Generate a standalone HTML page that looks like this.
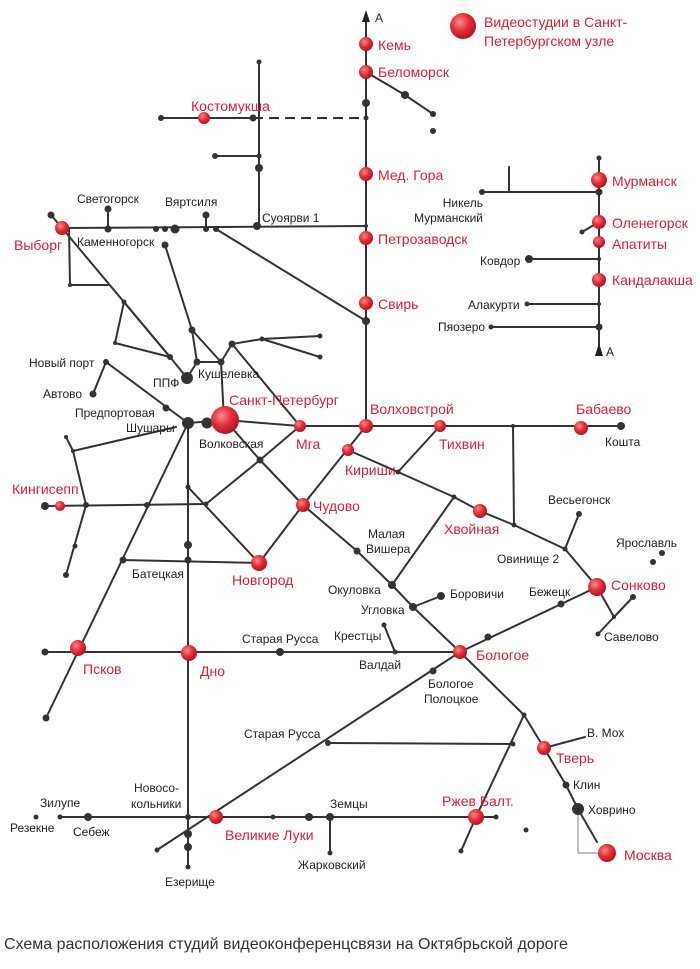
<!DOCTYPE html>
<html><head><meta charset="utf-8"><style>
html,body{margin:0;padding:0;background:#fff;}
svg{display:block}
.b{font-family:"Liberation Sans Narrow","Liberation Sans",sans-serif;font-size:12px;fill:#222}
.r{font-family:"Liberation Sans Narrow","Liberation Sans",sans-serif;font-size:14px;fill:#d3203a}
.cap{font-family:"Liberation Sans","DejaVu Sans",sans-serif;font-size:16px;fill:#333}
</style></head><body>
<svg width="700" height="969" viewBox="0 0 700 969" xmlns="http://www.w3.org/2000/svg">
<defs>
<radialGradient id="g" cx="0.38" cy="0.35" r="0.7"><stop offset="0" stop-color="#ff8a8a"/><stop offset="0.5" stop-color="#e0303a"/><stop offset="1" stop-color="#b0101e"/></radialGradient>
</defs>
<g stroke="#333" stroke-width="2" fill="none" stroke-linecap="round" stroke-linejoin="round">
<line x1="366" y1="20" x2="366" y2="426"/>
<line x1="366" y1="72" x2="405" y2="95"/><line x1="405" y1="95" x2="433" y2="114"/>
<line x1="161" y1="118" x2="253" y2="118"/>
<line x1="259" y1="62" x2="259" y2="227"/>
<line x1="215" y1="156" x2="259" y2="156"/>
<line x1="62" y1="228" x2="366" y2="226"/>
<line x1="51" y1="215" x2="62" y2="228"/>
<line x1="108" y1="209" x2="108" y2="229"/>
<line x1="206" y1="215" x2="206" y2="229"/>
<line x1="216" y1="229" x2="366" y2="321"/>
<line x1="165" y1="245" x2="192" y2="330"/><line x1="192" y1="330" x2="197" y2="362"/>
<line x1="62" y1="228" x2="170" y2="357"/><line x1="170" y1="357" x2="187" y2="378"/>
<line x1="69" y1="228" x2="70" y2="285"/><line x1="70" y1="285" x2="108" y2="285"/>
<line x1="124" y1="302" x2="115" y2="343"/><line x1="115" y1="343" x2="170" y2="357"/>
<line x1="124" y1="302" x2="170" y2="357"/>
<line x1="187" y1="378" x2="197" y2="362"/><line x1="197" y1="362" x2="221" y2="362"/>
<line x1="192" y1="330" x2="221" y2="362"/>
<line x1="221" y1="362" x2="224" y2="420"/>
<line x1="232" y1="344" x2="262" y2="339"/><line x1="262" y1="339" x2="320" y2="336"/><line x1="262" y1="339" x2="320" y2="357"/>
<line x1="232" y1="344" x2="221" y2="362"/><line x1="232" y1="344" x2="300" y2="426"/>
<line x1="106" y1="362" x2="93" y2="394"/><line x1="106" y1="362" x2="188" y2="423"/>
<line x1="188" y1="423" x2="225" y2="420"/>
<line x1="225" y1="420" x2="300" y2="426"/><line x1="300" y1="426" x2="621" y2="426"/>
<line x1="225" y1="420" x2="260" y2="460"/><line x1="260" y1="460" x2="303" y2="505"/>
<line x1="260" y1="460" x2="300" y2="426"/><line x1="206" y1="504" x2="260" y2="460"/>
<line x1="66" y1="437" x2="73" y2="451"/><line x1="73" y1="451" x2="176" y2="427"/>
<line x1="73" y1="451" x2="86" y2="505"/><line x1="86" y1="505" x2="66" y2="575"/>
<line x1="188" y1="423" x2="46" y2="718"/>
<line x1="188" y1="423" x2="188" y2="867"/>
<line x1="45" y1="506" x2="206" y2="504"/>
<line x1="188" y1="487" x2="259" y2="563"/><line x1="123" y1="560" x2="259" y2="563"/>
<line x1="259" y1="563" x2="303" y2="505"/><line x1="303" y1="505" x2="366" y2="426"/>
<polyline points="303,505 357,551 392,585 413,607 460,652 524,715 544,748 566,785 578,809 597,842"/>
<polyline points="348,450 398,472 454,497 480,511 514,525 565,549 597,587"/>
<line x1="440" y1="426" x2="398" y2="472"/>
<line x1="454" y1="497" x2="392" y2="585"/>
<line x1="513" y1="426" x2="514" y2="525"/>
<line x1="579" y1="514" x2="565" y2="549"/>
<line x1="597" y1="587" x2="614" y2="617"/><line x1="614" y1="617" x2="633" y2="597"/><line x1="614" y1="617" x2="598" y2="634"/>
<line x1="413" y1="607" x2="441" y2="596"/>
<line x1="460" y1="652" x2="597" y2="587"/>
<line x1="45" y1="652" x2="460" y2="652"/>
<line x1="384" y1="625" x2="395" y2="652"/>
<line x1="460" y1="652" x2="157" y2="850"/>
<line x1="328" y1="743" x2="513" y2="744"/>
<line x1="524" y1="715" x2="476" y2="817"/><line x1="476" y1="817" x2="461" y2="851"/>
<line x1="544" y1="748" x2="585" y2="737"/>
<line x1="60" y1="817" x2="496" y2="817"/>
<line x1="330" y1="817" x2="330" y2="853"/>
<line x1="599" y1="158" x2="599" y2="345"/>
<line x1="482" y1="192" x2="599" y2="192"/><line x1="509" y1="167" x2="509" y2="192"/>
<line x1="582" y1="232" x2="599" y2="222"/>
<line x1="529" y1="259" x2="599" y2="259"/>
<line x1="527" y1="304" x2="599" y2="304"/>
<line x1="491" y1="327" x2="599" y2="327"/>
</g>
<line x1="253" y1="118" x2="366" y2="118" stroke="#333" stroke-width="2" stroke-dasharray="10,6"/>
<polyline points="578,809 578,853 600,853" stroke="#999" stroke-width="1.2" fill="none"/>
<polygon points="366,10 362,22 370,22" fill="#222"/>
<polygon points="599,343 595,356 603,356" fill="#222"/>
<text x="375" y="22" class="b">А</text><text x="606" y="356" class="b">А</text>
<g fill="#333">
<circle cx="259" cy="62" r="2.5"/><circle cx="366" cy="103" r="4"/><circle cx="366" cy="118" r="2.5"/>
<circle cx="405" cy="95" r="4"/><circle cx="433" cy="114" r="3"/><circle cx="433" cy="131" r="3"/>
<circle cx="161" cy="118" r="3"/><circle cx="253" cy="118" r="3.5"/>
<circle cx="215" cy="156" r="3"/><circle cx="259" cy="156" r="2.5"/><circle cx="259" cy="168" r="4"/>
<circle cx="257" cy="226" r="4"/><circle cx="366" cy="226" r="2"/>
<circle cx="51" cy="215" r="3.5"/><circle cx="108" cy="209" r="3.5"/><circle cx="108" cy="229" r="3.5"/>
<circle cx="156" cy="229" r="3"/><circle cx="165" cy="229" r="3"/><circle cx="175" cy="229" r="4.5"/>
<circle cx="206" cy="215" r="3.5"/><circle cx="206" cy="229" r="3"/><circle cx="216" cy="229" r="3"/>
<circle cx="165" cy="245" r="3.5"/><circle cx="366" cy="321" r="4"/>
<circle cx="70" cy="285" r="2"/><circle cx="124" cy="302" r="2.5"/><circle cx="115" cy="343" r="2"/><circle cx="170" cy="357" r="3"/>
<circle cx="192" cy="330" r="3.5"/><circle cx="197" cy="362" r="3.5"/><circle cx="221" cy="362" r="3.5"/>
<circle cx="187" cy="378" r="6"/><circle cx="232" cy="344" r="3.5"/><circle cx="262" cy="339" r="2.5"/>
<circle cx="320" cy="336" r="2.5"/><circle cx="320" cy="357" r="2.5"/>
<circle cx="106" cy="362" r="3"/><circle cx="93" cy="394" r="3.5"/><circle cx="166" cy="408" r="3.5"/>
<circle cx="188" cy="423" r="6"/><circle cx="207" cy="423" r="5.5"/>
<circle cx="513" cy="426" r="2"/><circle cx="621" cy="426" r="4"/>
<circle cx="260" cy="460" r="3.5"/><circle cx="66" cy="437" r="2"/><circle cx="73" cy="451" r="2"/>
<circle cx="45" cy="506" r="4"/><circle cx="86" cy="505" r="3"/><circle cx="147" cy="505" r="3"/><circle cx="206" cy="504" r="2.5"/>
<circle cx="75" cy="546" r="2.5"/><circle cx="66" cy="575" r="3"/>
<circle cx="188" cy="487" r="2.5"/><circle cx="188" cy="545" r="4"/><circle cx="188" cy="560" r="3.5"/><circle cx="123" cy="560" r="3.5"/>
<circle cx="398" cy="472" r="2.5"/><circle cx="454" cy="497" r="2.5"/><circle cx="514" cy="525" r="2.5"/>
<circle cx="579" cy="514" r="3"/><circle cx="565" cy="549" r="2.5"/><circle cx="662" cy="553" r="3"/><circle cx="653" cy="562" r="3"/>
<circle cx="357" cy="551" r="3.5"/><circle cx="392" cy="585" r="4"/><circle cx="413" cy="607" r="4"/><circle cx="441" cy="596" r="4"/>
<circle cx="633" cy="597" r="3"/><circle cx="614" cy="617" r="2"/><circle cx="598" cy="634" r="2.5"/>
<circle cx="561" cy="604" r="3.5"/><circle cx="488" cy="637" r="3.5"/>
<circle cx="45" cy="652" r="3.5"/><circle cx="280" cy="652" r="4"/><circle cx="395" cy="652" r="2.5"/><circle cx="384" cy="625" r="2.5"/>
<circle cx="46" cy="718" r="3.5"/><circle cx="433" cy="671" r="3.5"/><circle cx="524" cy="715" r="2.5"/>
<circle cx="328" cy="743" r="3"/><circle cx="513" cy="744" r="2.5"/>
<circle cx="566" cy="785" r="3.5"/><circle cx="578" cy="809" r="6"/>
<circle cx="36" cy="817" r="2.5"/><circle cx="60" cy="817" r="2.5"/><circle cx="88" cy="817" r="4"/>
<circle cx="188" cy="817" r="3"/><circle cx="188" cy="834" r="4"/><circle cx="188" cy="847" r="4"/><circle cx="188" cy="867" r="2.5"/>
<circle cx="157" cy="850" r="2.5"/><circle cx="273" cy="817" r="2.5"/><circle cx="309" cy="817" r="4"/><circle cx="330" cy="817" r="4"/>
<circle cx="330" cy="853" r="2.5"/><circle cx="496" cy="817" r="2.5"/><circle cx="461" cy="851" r="2.5"/><circle cx="526" cy="830" r="2.5"/>
<circle cx="599" cy="158" r="2.5"/><circle cx="599" cy="192" r="3.5"/><circle cx="482" cy="192" r="3"/>
<circle cx="582" cy="232" r="2.5"/><circle cx="529" cy="259" r="4"/><circle cx="599" cy="259" r="2"/>
<circle cx="527" cy="304" r="2.5"/><circle cx="599" cy="304" r="2"/><circle cx="491" cy="327" r="2.5"/><circle cx="599" cy="327" r="3.5"/>
</g>
<g fill="url(#g)">
<circle cx="463" cy="26" r="13"/>
<circle cx="366" cy="44" r="7"/><circle cx="366" cy="72" r="7"/><circle cx="204" cy="118" r="6"/>
<circle cx="366" cy="174" r="7"/><circle cx="366" cy="238" r="7"/><circle cx="366" cy="303" r="7"/>
<circle cx="62" cy="228" r="7"/><circle cx="225" cy="420" r="14"/>
<circle cx="300" cy="426" r="6"/><circle cx="366" cy="426" r="7"/><circle cx="348" cy="450" r="6"/><circle cx="440" cy="426" r="6"/><circle cx="581" cy="428" r="7"/>
<circle cx="60" cy="506" r="5"/><circle cx="303" cy="505" r="7"/><circle cx="259" cy="563" r="8"/><circle cx="480" cy="511" r="7"/>
<circle cx="597" cy="587" r="9"/><circle cx="78" cy="648" r="8"/><circle cx="189" cy="653" r="8"/><circle cx="460" cy="652" r="7"/>
<circle cx="544" cy="748" r="7"/><circle cx="216" cy="817" r="7"/><circle cx="476" cy="817" r="8"/><circle cx="607" cy="853" r="9"/>
<circle cx="599" cy="180" r="8"/><circle cx="599" cy="222" r="7"/><circle cx="599" cy="242" r="6"/><circle cx="599" cy="280" r="7"/>
</g>
<g class="r">
<text x="484" y="27">Видеостудии в Санкт-</text><text x="484" y="46">Петербургском узле</text>
<text x="378" y="50">Кемь</text><text x="378" y="77">Беломорск</text><text x="191" y="111">Костомукша</text>
<text x="378" y="180">Мед. Гора</text><text x="378" y="244">Петрозаводск</text><text x="378" y="309">Свирь</text>
<text x="612" y="186">Мурманск</text><text x="612" y="228">Оленегорск</text><text x="612" y="249">Апатиты</text><text x="612" y="285">Кандалакша</text>
<text x="14" y="250">Выборг</text><text x="229" y="405">Санкт-Петербург</text><text x="370" y="414">Волховстрой</text><text x="576" y="414">Бабаево</text>
<text x="296" y="449">Мга</text><text x="439" y="449">Тихвин</text><text x="345" y="475">Кириши</text><text x="12" y="494">Кингисепп</text>
<text x="313" y="511">Чудово</text><text x="444" y="534">Хвойная</text><text x="232" y="585">Новгород</text><text x="611" y="590">Сонково</text>
<text x="83" y="674">Псков</text><text x="200" y="676">Дно</text><text x="476" y="660">Бологое</text><text x="556" y="763">Тверь</text>
<text x="442" y="806">Ржев Балт.</text><text x="225" y="840">Великие Луки</text><text x="624" y="860">Москва</text>
</g>
<g class="b">
<text x="77" y="203">Светогорск</text><text x="165" y="206">Вяртсиля</text><text x="262" y="222">Суоярви 1</text>
<text x="77" y="246">Каменногорск</text>
<text x="483" y="207" text-anchor="end">Никель</text><text x="483" y="222" text-anchor="end">Мурманский</text>
<text x="480" y="265">Ковдор</text><text x="468" y="309">Алакурти</text><text x="438" y="331">Пяозеро</text>
<text x="29" y="367">Новый порт</text><text x="43" y="398">Автово</text><text x="153" y="387">ППФ</text><text x="198" y="378">Кушелевка</text>
<text x="75" y="417">Предпортовая</text><text x="126" y="432">Шушары</text><text x="199" y="448">Волковская</text><text x="605" y="446">Кошта</text>
<text x="548" y="504">Весьегонск</text><text x="368" y="538">Малая</text><text x="366" y="553">Вишера</text><text x="616" y="547">Ярославль</text>
<text x="497" y="563">Овинище 2</text><text x="328" y="594">Окуловка</text><text x="450" y="598">Боровичи</text><text x="529" y="596">Бежецк</text>
<text x="361" y="614">Угловка</text><text x="132" y="578">Батецкая</text><text x="242" y="643">Старая Русса</text><text x="334" y="640">Крестцы</text>
<text x="604" y="641">Савелово</text><text x="359" y="669">Валдай</text><text x="428" y="688">Бологое</text><text x="424" y="703">Полоцкое</text>
<text x="244" y="738">Старая Русса</text><text x="587" y="737">В. Мох</text><text x="573" y="789">Клин</text><text x="588" y="814">Ховрино</text>
<text x="134" y="792">Новосо-</text><text x="131" y="808">кольники</text><text x="40" y="807">Зилупе</text><text x="330" y="808">Земцы</text>
<text x="10" y="832">Резекне</text><text x="73" y="836">Себеж</text><text x="298" y="869">Жарковский</text><text x="165" y="886">Езерище</text>
</g>
<text x="4" y="949" class="cap">Схема расположения студий видеоконференцсвязи на Октябрьской дороге</text>
</svg>
</body></html>
